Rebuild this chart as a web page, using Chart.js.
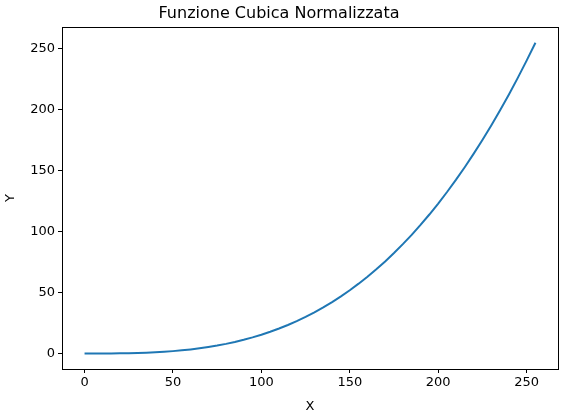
<!DOCTYPE html>
<html>
<head>
<meta charset="utf-8">
<script src="https://cdn.jsdelivr.net/npm/chart.js@4.4.0/dist/chart.umd.min.js"></script>
<style>
  html, body { margin: 0; padding: 0; background: #fff; }
  #wrap { width: 563px; height: 414px; position: relative; }
</style>
</head>
<body>
<div id="wrap"><canvas id="cubic-chart"></canvas></div>
<script>
// Valori (x ogni 5 unità)
const xValues = [0, 5, 10, 15, 20, 25, 30, 35, 40, 45, 50, 55, 60, 65, 70, 75, 80, 85, 90, 95,
  100, 105, 110, 115, 120, 125, 130, 135, 140, 145, 150, 155, 160, 165, 170, 175, 180, 185,
  190, 195, 200, 205, 210, 215, 220, 225, 230, 235, 240, 245, 250, 255];
const yValues = [0, 0, 0.02, 0.05, 0.12, 0.24, 0.42, 0.66, 0.98, 1.4, 1.92, 2.56, 3.32, 4.22,
  5.28, 6.49, 7.87, 9.44, 11.21, 13.19, 15.38, 17.8, 20.47, 23.39, 26.57, 30.04, 33.79, 37.84,
  42.2, 46.88, 51.9, 57.27, 62.99, 69.08, 75.56, 82.42, 89.69, 97.37, 105.48, 114.03, 123.03,
  132.49, 142.42, 152.84, 163.75, 175.17, 187.11, 199.58, 212.6, 226.16, 240.29, 255];
const tickValues = [0, 50, 100, 150, 200, 250];

const chartTitle = "Funzione Cubica Normalizzata";
const xLabel = "X";
const yLabel = "Y";

Chart.defaults.font.family = "'DejaVu Sans', sans-serif";
Chart.defaults.color = "#000";

// cornice attorno all'area del grafico (stile matplotlib)
const boxPlugin = {
  id: "axesBox",
  afterDraw(chart) {
    const { ctx, chartArea: a } = chart;
    ctx.save();
    ctx.strokeStyle = "#000";
    ctx.lineWidth = 1;
    ctx.strokeRect(Math.round(a.left) + 0.5, Math.round(a.top) + 0.5,
      Math.round(a.right - a.left), Math.round(a.bottom - a.top));
    ctx.restore();
  }
};

function fixedTicks(scale) {
  scale.ticks = tickValues.map(v => ({ value: v }));
}

new Chart(document.getElementById("cubic-chart"), {
  type: "line",
  data: {
    datasets: [{
      data: xValues.map((x, i) => ({ x: x, y: yValues[i] })),
      borderColor: "#1f77b4",
      borderWidth: 2,
      pointRadius: 0,
      tension: 0,
      fill: false
    }]
  },
  options: {
    responsive: true,
    maintainAspectRatio: false,
    animation: false,
    layout: { padding: { left: 0, right: 5, top: 0, bottom: 0 } },
    plugins: {
      legend: { display: false },
      tooltip: { enabled: false },
      title: {
        display: true,
        text: chartTitle,
        font: { size: 16, weight: "normal" },
        color: "#000",
        padding: { top: 4, bottom: 4 }
      }
    },
    scales: {
      x: {
        type: "linear",
        min: -12.75,
        max: 267.75,
        afterBuildTicks: fixedTicks,
        afterFit: s => { s.height = 45; },
        ticks: { font: { size: 13 }, padding: 2, maxRotation: 0 },
        grid: { drawOnChartArea: false, tickLength: 4, color: "#000" },
        border: { display: false },
        title: { display: true, text: xLabel, font: { size: 13 }, padding: { top: 1, bottom: 0 } }
      },
      y: {
        type: "linear",
        min: -12.75,
        max: 267.75,
        afterBuildTicks: fixedTicks,
        afterFit: s => { s.width = 62; },
        ticks: { font: { size: 13 }, padding: 3 },
        grid: { drawOnChartArea: false, tickLength: 4, color: "#000" },
        border: { display: false },
        title: { display: true, text: yLabel, font: { size: 13 }, padding: { top: 3, bottom: 4 } }
      }
    }
  },
  plugins: [boxPlugin]
});
</script>
</body>
</html>
